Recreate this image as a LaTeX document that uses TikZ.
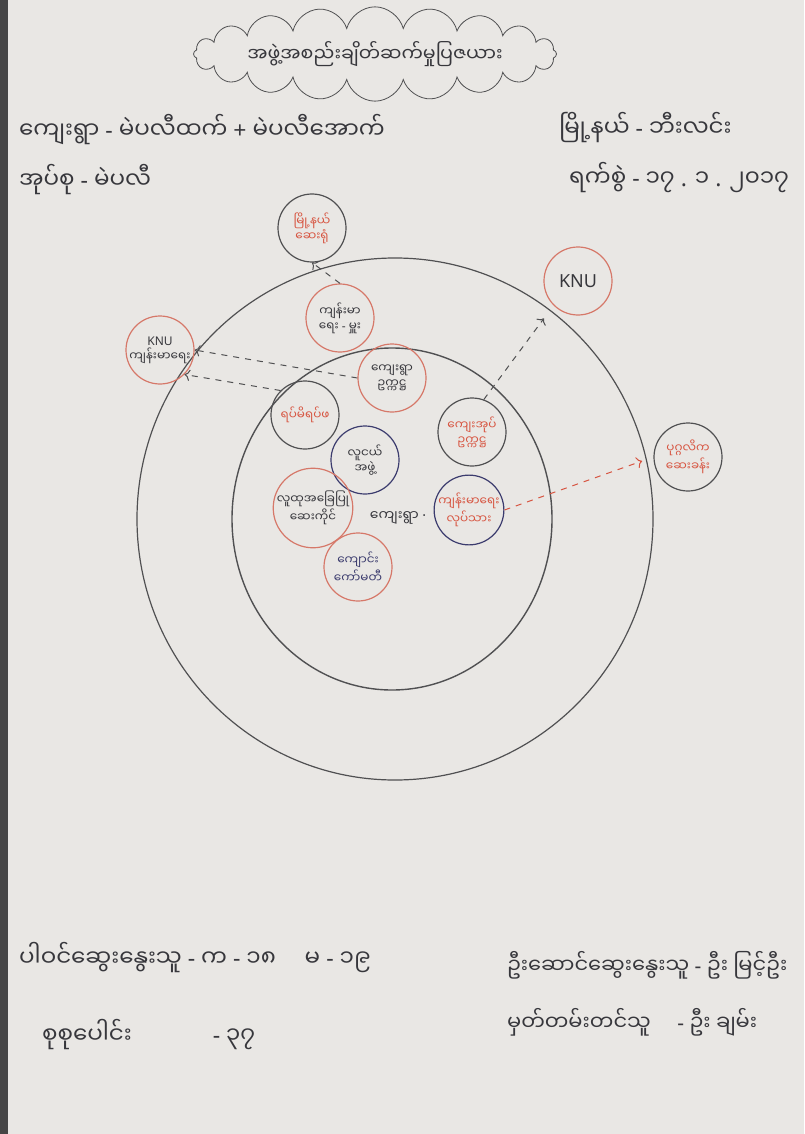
\documentclass[tikz,border=0pt]{standalone}
\usepackage{fontspec}
\setmainfont{Noto Sans}
\newfontfamily\mm[Script=Myanmar]{Noto Sans Myanmar UI}
\newcommand\lat[1]{{\rmfamily #1}}
\usetikzlibrary{arrows.meta,shapes.symbols}
\definecolor{paper}{RGB}{233,231,228}
\definecolor{pencil}{RGB}{80,80,82}
\definecolor{redring}{RGB}{214,120,105}
\definecolor{redink}{RGB}{215,85,65}
\definecolor{blueink}{RGB}{60,60,110}
\definecolor{darkink}{RGB}{55,55,60}

\begin{document}
\begin{tikzpicture}[x=0.5pt,y=-0.5pt,
  ring/.style={circle,draw=#1,line width=0.6pt,minimum size=34pt,inner sep=0pt,align=center,font=\mm\fontsize{6}{7.5}\selectfont},
  hand/.style={anchor=west,text=darkink,font=\mm\fontsize{11.5}{13}\selectfont},
  link/.style={->,dashed,line width=0.5pt,draw=pencil}]
\fill[paper] (0,0) rectangle (804,1134);
\fill[gray!55!black] (0,0) rectangle (8,1134);
\useasboundingbox (0,0) rectangle (804,1134);

\node[cloud,draw=pencil,cloud puffs=20,cloud puff arc=150,aspect=7,minimum width=140pt,minimum height=14pt,inner sep=0pt,
  text=darkink,font=\mm\fontsize{9.5}{11}\selectfont] (title) at (375,54) {အဖွဲ့အစည်းချိတ်ဆက်မှုပြဇယား};

\node[hand] (village1) at (12,130) {ကျေးရွာ \lat{-} မဲပလီထက် \lat{+} မဲပလီအောက်};
\node[hand] (tract) at (12,180) {အုပ်စု \lat{-} မဲပလီ};
\node[hand] (township) at (552,128) {မြို့နယ် \lat{-} ဘီးလင်း};
\node[hand] (date) at (562,178) {ရက်စွဲ \lat{-} ၁၇ \lat{.} ၁ \lat{.} ၂၀၁၇};

\draw[pencil,line width=0.6pt] (395,519) ellipse[x radius=258,y radius=261];
\draw[pencil,line width=0.7pt] (392,519) ellipse[x radius=160,y radius=171];

\foreach \n/\p/\rc/\tc/\t in {
  hosp/{312,228}/pencil/redink/{မြို့နယ်\\ဆေးရုံ},
  hofficer/{340,318}/redring/darkink/{ကျန်းမာ\\ရေး \lat{-} မှူး},
  knuhealth/{160,350}/redring/darkink/{\lat{KNU}\\ကျန်းမာရေး},
  clinic/{688,457}/pencil/redink/{ပုဂ္ဂလိက\\ဆေးခန်း},
  vchair/{392,378}/redring/darkink/{ကျေးရွာ\\ဥက္ကဋ္ဌ},
  elders/{305,415}/pencil/redink/{ရပ်မိရပ်ဖ},
  tchair/{472,432}/pencil/redink/{ကျေးအုပ်\\ဥက္ကဋ္ဌ},
  youth/{365,460}/blueink/darkink/{လူငယ်\\အဖွဲ့},
  cbh/{313,508}/redring/darkink/{လူထုအခြေပြု\\ဆေးကိုင်},
  hworker/{469,510}/blueink/redink/{ကျန်းမာရေး\\လုပ်သား},
  school/{358,567}/redring/blueink/{ကျောင်း\\ကော်မတီ}}{
  \node[ring=\rc,text=\tc] (\n) at (\p) {\t};
}
\node[ring=redring,text=darkink,font=\fontsize{9}{10}\selectfont] (knu) at (578,281) {KNU};
\node[text=darkink,font=\mm\fontsize{7}{8}\selectfont] (village) at (398,518) {ကျေးရွာ \lat{·}};

\draw[link] (vchair.west) -- (knuhealth.east);
\draw[link] (elders.north west) -- (knuhealth.south east);
\draw[link,shorten >=8pt] (tchair.70) -- (knu.225);
\draw[link,draw=redink,shorten >=6pt] (hworker.east) -- (clinic.west);
\draw[link] (hofficer.north) -- (hosp.south);

\node[hand] (people) at (12,958) {ပါဝင်ဆွေးနွေးသူ \lat{-} က \lat{-} ၁၈ \quad မ \lat{-} ၁၉};
\node[hand] (total) at (35,1035) {စုစုပေါင်း \hspace{3em} \lat{-} ၃၇};
\node[hand,font=\mm\fontsize{10.5}{12}\selectfont] (leader) at (500,965) {ဦးဆောင်ဆွေးနွေးသူ \lat{-} ဦး မြင့်ဦး};
\node[hand,font=\mm\fontsize{10.5}{12}\selectfont] (notes) at (500,1022) {မှတ်တမ်းတင်သူ \quad \lat{-} ဦး ချမ်း};
\end{tikzpicture}
\end{document}
